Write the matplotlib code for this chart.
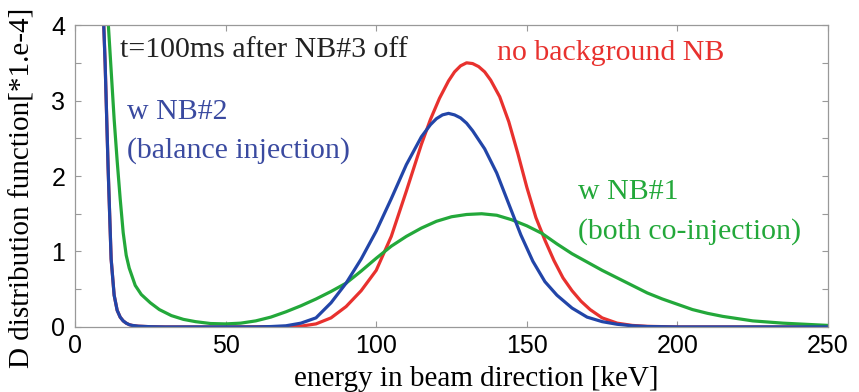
import matplotlib
matplotlib.use("Agg")
from matplotlib import pyplot as plt
import numpy as np

# energy [keV] and distribution values [*1e-4]
red_x = [8, 9, 10, 11, 12, 13, 14, 15, 16, 17, 18, 19, 21, 25, 30, 50, 70, 75, 80, 85, 90, 95,
         100, 105, 110, 115, 118, 121, 124, 126, 128, 130, 132, 134, 136, 138, 141, 144, 147,
         150, 153, 156, 159, 162, 165, 168, 171, 175, 180, 185, 190, 200, 250]
red_y = [6.2, 4.6, 3.5, 2.1, 0.9, 0.42, 0.22, 0.13, 0.08, 0.05, 0.03, 0.02, 0.01, 0.003, 0.0, 0.0,
         0.005, 0.01, 0.04, 0.12, 0.27, 0.48, 0.75, 1.2, 1.8, 2.42, 2.75, 3.03, 3.26, 3.38,
         3.46, 3.5, 3.49, 3.45, 3.38, 3.27, 3.05, 2.72, 2.3, 1.85, 1.45, 1.15, 0.88, 0.65, 0.48,
         0.34, 0.23, 0.12, 0.05, 0.02, 0.008, 0.0, 0.0]

blue_x = [8, 9, 10, 11, 12, 13, 14, 15, 16, 17, 18, 19, 21, 25, 30, 50, 60, 65, 70, 75, 80, 85,
          90, 95, 100, 105, 110, 115, 118, 120, 122, 124, 126, 128, 130, 132, 136, 140, 144,
          148, 152, 156, 160, 165, 170, 175, 180, 185, 190, 200, 250]
blue_y = [6.2, 4.6, 3.5, 2.1, 0.9, 0.42, 0.22, 0.13, 0.08, 0.05, 0.03, 0.02, 0.01, 0.003, 0.0, 0.0,
          0.0, 0.005, 0.015, 0.05, 0.12, 0.32, 0.58, 0.9, 1.27, 1.7, 2.15, 2.52, 2.68, 2.76,
          2.81, 2.83, 2.81, 2.77, 2.7, 2.6, 2.36, 2.04, 1.63, 1.22, 0.87, 0.6, 0.42, 0.25, 0.13,
          0.07, 0.035, 0.015, 0.005, 0.0, 0.0]

green_x = [10, 11, 12, 13, 14, 15, 16, 17, 18, 20, 22, 25, 28, 32, 36, 40, 45, 50, 55, 60, 65,
           70, 75, 80, 85, 90, 95, 100, 105, 110, 115, 120, 125, 130, 135, 140, 145, 150, 155,
           160, 165, 170, 175, 180, 185, 190, 195, 200, 205, 210, 215, 220, 225, 230, 235, 240,
           245, 250]
green_y = [4.8, 4.05, 3.4, 2.75, 2.2, 1.7, 1.25, 0.95, 0.78, 0.55, 0.43, 0.32, 0.23, 0.15, 0.1,
           0.07, 0.045, 0.04, 0.05, 0.08, 0.13, 0.2, 0.28, 0.37, 0.47, 0.58, 0.74, 0.91, 1.07,
           1.2, 1.31, 1.4, 1.46, 1.49, 1.5, 1.48, 1.42, 1.34, 1.24, 1.1, 0.97, 0.86, 0.75, 0.65,
           0.55, 0.45, 0.37, 0.3, 0.23, 0.18, 0.14, 0.11, 0.08, 0.065, 0.05, 0.04, 0.03, 0.02]

x_ticks = [0, 50, 100, 150, 200, 250]
y_ticks = [0, 0.5, 1, 1.5, 2, 2.5, 3, 3.5, 4]
y_labels = ["0", "", "1", "", "2", "", "3", "", "4"]

RED = "#e8312e"
BLUE = "#2245a8"
GREEN = "#23a83a"
serif = "Liberation Serif"

fig = plt.figure(figsize=(8.59, 3.92), dpi=100)
ax = fig.add_axes([0.0873, 0.166, 0.8767, 0.770])

ax.plot(red_x, red_y, color=RED, lw=2.3)
ax.plot(green_x, green_y, color=GREEN, lw=2.3)
ax.plot(blue_x, blue_y, color=BLUE, lw=2.3)

ax.set_xlim(0, 250)
ax.set_ylim(0, 4)
ax.set_xticks(x_ticks)
ax.set_yticks(y_ticks)
ax.set_yticklabels(y_labels)
ax.tick_params(direction="in", top=True, right=True, length=4, width=0.8,
               color="#999999", labelsize=18)
ax.tick_params(axis="y", pad=7)
ax.tick_params(axis="x", pad=5)
for lab in ax.get_xticklabels() + ax.get_yticklabels():
    lab.set_fontfamily("Liberation Sans")
for s in ax.spines.values():
    s.set_color("#999999")
    s.set_linewidth(0.9)

ax.set_xlabel("energy in beam direction [keV]", fontfamily=serif, fontsize=21)
ax.xaxis.set_label_coords(0.5325, -0.13)
ax.set_ylabel("D distribution function[*1.e-4]", fontfamily=serif, fontsize=21)
ax.yaxis.set_label_coords(-0.053, 0.46)

fs = 21.5
ax.text(15, 3.67, "t=100ms after NB#3 off", fontfamily=serif, fontsize=fs,
        color="#222222", va="center")
ax.text(140, 3.63, "no background NB", fontfamily=serif, fontsize=fs,
        color=RED, va="center")
ax.text(17.4, 2.85, "w NB#2", fontfamily=serif, fontsize=fs, color="#3a4aa0", va="center")
ax.text(17.2, 2.34, "(balance injection)", fontfamily=serif, fontsize=fs,
        color="#3a4aa0", va="center")
ax.text(167, 1.79, "w NB#1", fontfamily=serif, fontsize=fs, color=GREEN, va="center")
ax.text(167, 1.26, "(both co-injection)", fontfamily=serif, fontsize=fs,
        color=GREEN, va="center")

fig.savefig("out.png", dpi=100)
